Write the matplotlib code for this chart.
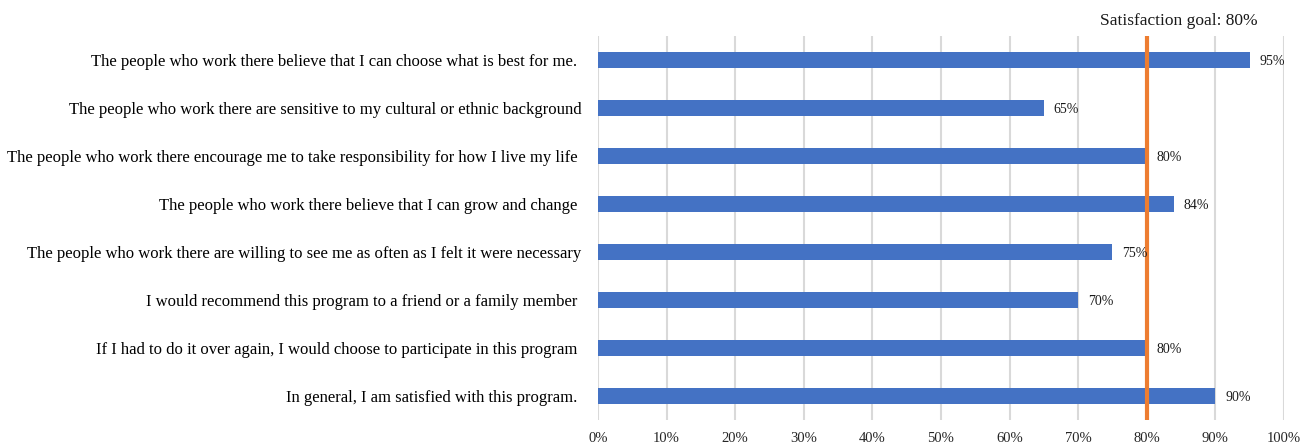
import matplotlib
matplotlib.use("Agg")
import matplotlib.pyplot as plt

plt.rcParams['font.family'] = ['Liberation Serif', 'DejaVu Serif']

categories = [
    "The people who work there believe that I can choose what is best for me. ",
    "The people who work there are sensitive to my cultural or ethnic background",
    "The people who work there encourage me to take responsibility for how I live my life ",
    "The people who work there believe that I can grow and change ",
    "The people who work there are willing to see me as often as I felt it were necessary",
    "I would recommend this program to a friend or a family member ",
    "If I had to do it over again, I would choose to participate in this program ",
    "In general, I am satisfied with this program. ",
]
values = [95, 65, 80, 84, 75, 70, 80, 90]
goal = 80
xticks = list(range(0, 101, 10))
xticklabels = [f"{t}%" for t in xticks]

fig = plt.figure(figsize=(13.11, 4.44), dpi=100)
ax = fig.add_axes([0.4561, 0.0541, 0.5233, 0.8648])

ypos = list(range(len(categories)))[::-1]
ax.barh(ypos, values, height=0.35, color='#4472C4', zorder=3)
for y, v in zip(ypos, values):
    ax.annotate(f"{v}%", xy=(v, y), xytext=(7, -1.2), textcoords='offset points',
                va='center', ha='left', fontsize=10, color='#1a1a1a', zorder=5)

ax.axvline(goal, color='#ED7D31', linewidth=3, zorder=4)
ax.text(84.6, 1.0 + 0.038, f"Satisfaction goal: {goal}%", transform=ax.get_xaxis_transform(),
        ha='center', va='center', fontsize=12.5, color='#1a1a1a')

ax.set_xlim(0, 100)
ax.set_ylim(-0.5, len(categories) - 0.5)
ax.set_xticks(xticks)
ax.set_xticklabels(xticklabels, fontsize=10.5, color='#262626')
ax.set_yticks(ypos)
ax.set_yticklabels(categories, fontsize=12, color='#000000')
ax.tick_params(axis='both', length=0)
ax.tick_params(axis='y', pad=12)
ax.tick_params(axis='x', pad=9)
ax.xaxis.grid(True, color='#D9D9D9', linewidth=1.5, zorder=0)
ax.set_axisbelow(True)
for s in ax.spines.values():
    s.set_visible(False)

fig.savefig("out.png", dpi=100)
